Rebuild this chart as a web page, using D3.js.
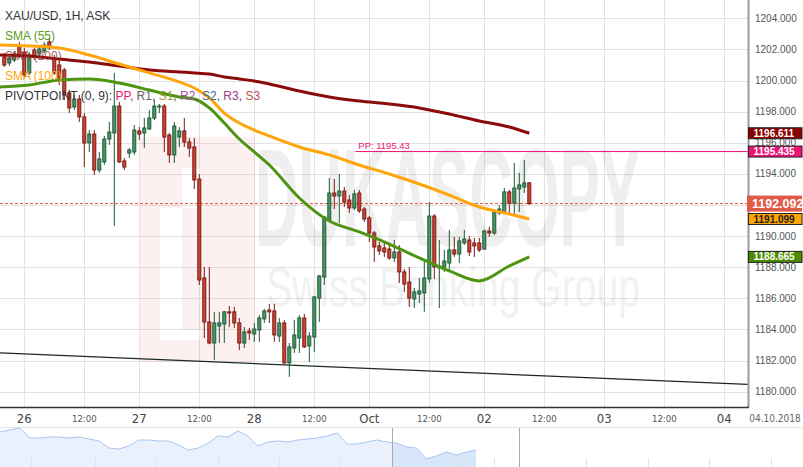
<!DOCTYPE html>
<html><head><meta charset="utf-8">
<script src="https://cdn.jsdelivr.net/npm/d3@7/dist/d3.min.js"></script>
<style>
body{margin:0;background:#fff;}
svg{display:block;font-family:"Liberation Sans",Arial,sans-serif;}
</style>
</head><body>
<svg id="c" width="803" height="467"></svg>
<script>
// ---------- DATA ----------
// hourly candles, slot index 0..105 (trading hours, weekend skipped)
const opens = [1201.51,1201.13,1201.32,1202.22,1201.83,1200.49,1201.96,1201.71,1201.90,1202.48,
1201.45,1201.00,1200.68,1199.20,1198.30,1198.81,1197.66,1195.99,1196.56,1194.25,
1194.77,1196.24,1196.63,1198.36,1194.83,1195.34,1195.41,1196.76,1196.63,1196.89,
1197.59,1198.30,1198.36,1196.50,1195.22,1196.37,1196.76,1196.05,1195.73,1193.67,
1187.31,1184.48,1183.13,1184.23,1184.35,1185.13,1185.13,1184.42,1183.13,1183.90,
1183.71,1183.97,1184.68,1185.25,1185.19,1183.58,1184.42,1181.85,1182.81,1183.45,
1184.74,1182.94,1183.52,1186.02,1187.37,1191.04,1192.77,1192.58,1192.90,1192.32,
1191.81,1192.77,1191.74,1191.17,1190.20,1189.37,1189.24,1189.17,1188.60,1188.98,
1187.70,1187.05,1185.96,1186.28,1186.35,1187.25,1191.29,1187.95,1188.02,1188.27,
1189.11,1188.85,1189.56,1189.75,1189.56,1189.56,1189.17,1190.33,1190.20,1191.49,
1191.49,1192.84,1192.13,1193.03,1193.16,1193.42];
const highs = [1201.77,1201.64,1201.90,1202.48,1202.09,1201.83,1202.09,1202.28,1202.48,1202.73,
1201.64,1201.45,1200.81,1199.39,1199.07,1199.07,1197.91,1196.82,1196.82,1195.41,
1196.44,1197.34,1200.49,1198.62,1195.02,1195.66,1197.14,1197.01,1197.59,1198.11,
1198.75,1198.49,1198.49,1196.63,1197.34,1197.01,1197.59,1196.31,1196.31,1193.99,
1188.02,1188.02,1185.13,1185.13,1185.19,1185.51,1185.45,1184.74,1184.16,1184.10,
1184.42,1184.93,1185.32,1185.64,1185.64,1184.74,1184.61,1183.13,1184.61,1184.93,
1185.00,1183.84,1186.15,1187.50,1191.30,1193.74,1193.67,1193.99,1193.16,1192.64,
1192.97,1192.97,1191.87,1191.29,1190.33,1189.62,1189.56,1189.56,1189.75,1189.43,
1187.89,1188.02,1186.67,1187.31,1188.47,1192.19,1191.42,1189.75,1189.11,1190.40,
1189.95,1189.95,1190.40,1190.01,1189.88,1189.88,1190.40,1190.59,1191.68,1192.00,
1193.09,1192.97,1194.70,1194.06,1194.89,1193.48];
const lows = [1200.87,1200.94,1201.19,1201.45,1200.16,1200.36,1201.32,1201.51,1201.77,1201.96,
1200.36,1199.71,1198.75,1197.91,1198.11,1197.34,1194.44,1195.41,1193.93,1194.06,
1194.57,1195.86,1190.65,1194.70,1194.25,1195.02,1195.22,1196.18,1195.66,1196.82,
1197.46,1197.91,1195.41,1194.70,1194.70,1195.73,1195.73,1195.09,1193.03,1186.86,
1183.45,1183.05,1182.04,1183.13,1183.13,1184.16,1184.10,1182.68,1182.81,1183.33,
1183.20,1183.20,1184.42,1184.42,1183.20,1183.20,1181.78,1180.95,1182.49,1182.49,
1182.81,1181.91,1182.55,1184.48,1186.86,1190.91,1191.74,1190.84,1191.87,1191.49,
1191.68,1191.49,1190.91,1189.62,1188.34,1188.79,1188.66,1188.47,1188.34,1186.99,
1186.41,1185.45,1185.38,1185.70,1185.13,1186.99,1187.25,1185.38,1187.70,1187.70,
1188.66,1188.27,1189.43,1188.72,1188.66,1188.98,1189.11,1189.95,1190.07,1191.36,
1191.49,1191.49,1191.36,1191.55,1192.77,1192.00];
const closes = [1201.00,1201.45,1201.71,1201.64,1200.36,1201.64,1201.51,1202.03,1202.28,1202.09,
1200.49,1200.16,1199.07,1198.24,1198.81,1197.66,1195.99,1196.56,1194.25,1194.96,
1196.24,1196.69,1198.36,1194.77,1194.44,1195.54,1196.82,1196.56,1196.95,1197.59,
1198.36,1198.36,1196.37,1195.22,1197.08,1196.76,1196.05,1195.66,1193.61,1187.18,
1184.48,1183.13,1184.42,1184.42,1185.13,1185.06,1184.42,1183.13,1183.84,1183.78,
1184.03,1184.74,1185.19,1185.13,1183.65,1184.42,1181.85,1182.88,1183.65,1184.74,
1182.88,1183.58,1186.09,1187.44,1191.23,1192.77,1192.58,1192.90,1192.19,1191.81,
1192.71,1191.62,1191.10,1190.20,1189.30,1189.05,1188.98,1188.60,1188.98,1187.70,
1186.92,1186.02,1186.41,1186.47,1187.31,1191.29,1188.02,1188.08,1188.40,1189.11,
1188.85,1189.69,1189.82,1188.98,1189.37,1189.11,1190.33,1190.20,1191.55,1191.74,
1192.84,1192.13,1193.09,1193.29,1193.42,1192.092];

// moving averages at these slots
const smaSlots = [-1,5,11,17,23,29,35,38,41,44,47,50,53,59,65,71,77,83,89,95,101,105];
const sma55  = [1199.58,1199.71,1200.04,1200.10,1199.84,1199.39,1198.94,1198.81,1198.24,1197.27,1196.24,1195.41,1194.57,1192.45,1190.97,1190.27,1189.49,1188.60,1187.76,1187.12,1188.08,1188.665];
const sma100 = [1202.28,1202.22,1202.09,1201.64,1201.06,1200.49,1199.91,1199.52,1198.88,1197.91,1197.27,1196.82,1196.44,1195.73,1195.22,1194.57,1193.99,1193.35,1192.64,1191.87,1191.42,1191.099];
const sma200 = [1201.64,1201.58,1201.38,1201.19,1200.93,1200.68,1200.55,1200.49,1200.42,1200.23,1200.10,1199.97,1199.78,1199.33,1198.94,1198.68,1198.49,1198.24,1197.85,1197.40,1197.01,1196.611];

// trend line (slot, price)
const trendSlots = [-0.86, 148.74];
const trendPrices = [1182.49, 1180.47];

const pivotPP = 1195.435;
const lastPrice = 1192.092;

// axes
const priceTicks = [1180,1182,1184,1186,1188,1190,1192,1194,1196,1198,1200,1202,1204];
const timeTickSlots = [4,16,27,39,50,62,73,85,96,108,120,132,144];
const timeTickLabels = ["26","12:00","27","12:00","28","12:00","Oct","12:00","02","12:00","03","12:00","04"];
const timeTickMajor = [true,false,true,false,true,false,true,false,true,false,true,false,true];

// navigator overview series
const navValues = [1210,1212,1214,1204,1204,1205,1205,1204,1205,1203,1201,1194,1193,1196,1202,1202,1201,1201,1197,1192,
1194,1199,1206,1205,1211,1206,1196,1200,1201,1200,1202,1203,1204,1206,1209,1198,1198,1200,1202,1200,
1199,1195,1194,1183,1186,1190,1187,1190,1192];

// ---------- DRAW ----------
const svg = d3.select("#c");
const PR = 748, PB = 407;
const x = d3.scaleLinear().domain([0,148.74]).range([4.3,748]);
const y = d3.scaleLinear().domain([1180,1204]).range([391.7,18.3]);

svg.append("defs").append("clipPath").attr("id","plot")
  .append("rect").attr("x",0).attr("y",0).attr("width",PR).attr("height",PB);

const plot = svg.append("g").attr("clip-path","url(#plot)");

// grid
plot.append("g").selectAll("line").data(priceTicks).join("line")
  .attr("x1",0).attr("x2",PR).attr("y1",d=>Math.round(y(d))+0.5).attr("y2",d=>Math.round(y(d))+0.5)
  .attr("stroke","#e3e3e3").attr("stroke-width",1);
plot.append("g").selectAll("line").data(timeTickSlots).join("line")
  .attr("y1",0).attr("y2",PB).attr("x1",d=>Math.round(x(d))+0.5).attr("x2",d=>Math.round(x(d))+0.5)
  .attr("stroke","#e3e3e3").attr("stroke-width",1);

// watermark logo
const wm = plot.append("g").attr("opacity",0.07);
wm.append("path").attr("fill","#e0303a").attr("fill-rule","evenodd")
  .attr("d","M140,137H255V362H140Z M182,168H200V208H160V340H200V330H182Z");

// watermark text
plot.append("text").attr("x",255).attr("y",246).attr("font-size",140).attr("font-weight","bold")
  .attr("textLength",385).attr("lengthAdjust","spacingAndGlyphs")
  .attr("fill","#000").attr("opacity",0.06).text("DUKASCOPY");
plot.append("text").attr("x",266).attr("y",306).attr("font-size",56)
  .attr("textLength",374).attr("lengthAdjust","spacingAndGlyphs")
  .attr("fill","#000").attr("opacity",0.05).text("Swiss Banking Group");

// legend label drawn under the marks (obscured in the original)
svg.append("text").attr("x",5).attr("y",59.5).attr("font-size",12)
  .attr("fill","#a03a3a").attr("opacity",0.8).text("SMA (200)");

// trend line
plot.append("line")
  .attr("x1",x(trendSlots[0])).attr("y1",y(trendPrices[0]))
  .attr("x2",x(trendSlots[1])).attr("y2",y(trendPrices[1]))
  .attr("stroke","#1c2a1c").attr("stroke-width",1.2);

// last price dashed line
plot.append("line").attr("x1",0).attr("x2",PR).attr("y1",y(lastPrice)).attr("y2",y(lastPrice))
  .attr("stroke","#e4553f").attr("stroke-width",1).attr("stroke-dasharray","3,2");

// pivot PP line
plot.append("line").attr("x1",x(70.2)).attr("x2",PR).attr("y1",y(pivotPP)).attr("y2",y(pivotPP))
  .attr("stroke","#ee1177").attr("stroke-width",1);
plot.append("text").attr("x",x(70.8)).attr("y",y(pivotPP)-2.5).attr("font-size",9.5)
  .attr("fill","#ee1177").text("PP: " + pivotPP.toFixed(2));

// candles
const candles = d3.range(opens.length).map(i=>({i,o:opens[i],h:highs[i],l:lows[i],c:closes[i]}));
const cg = plot.append("g");
cg.selectAll("line").data(candles).join("line")
  .attr("x1",d=>x(d.i)).attr("x2",d=>x(d.i)).attr("y1",d=>y(d.h)).attr("y2",d=>y(d.l))
  .attr("stroke",d=>d.c>=d.o?"#1e5a36":"#7a1a14").attr("stroke-width",1);
cg.selectAll("rect").data(candles).join("rect")
  .attr("x",d=>x(d.i)-1.5).attr("width",3)
  .attr("y",d=>y(Math.max(d.o,d.c)))
  .attr("height",d=>Math.max(0.8,Math.abs(y(d.o)-y(d.c))))
  .attr("fill",d=>d.c>=d.o?"#4a9668":"#cc4532")
  .attr("stroke",d=>d.c>=d.o?"#1e5a36":"#7a1a14").attr("stroke-width",1);

// SMAs
const line = d3.line().x(d=>x(d[0])).y(d=>y(d[1])).curve(d3.curveMonotoneX);
[[sma200,"#8b0a0a"],[sma100,"#ffa40a"],[sma55,"#4d9410"]].forEach(([vals,col])=>{
  plot.append("path").datum(smaSlots.map((s,i)=>[s,vals[i]])).attr("d",line)
    .attr("fill","none").attr("stroke",col).attr("stroke-width",3).attr("stroke-linejoin","round");
});

// legend
const lg = svg.append("g").attr("font-size",12);
lg.append("text").attr("x",5).attr("y",19.5).attr("fill","#333").text("XAU/USD, 1H, ASK");
lg.append("text").attr("x",5).attr("y",39.5).attr("fill","#5a9e22").text("SMA (55)");
lg.append("text").attr("x",5).attr("y",79.5).attr("fill","#ffa40a").text("SMA (100)");
const pv = lg.append("text").attr("x",5).attr("y",100).attr("fill","#333");
const pvParts = [["PIVOTPOINT (0, 9): ","#333"],["PP","#ee1177"],[", ","#555"],["R1","#666"],[", ","#555"],
  ["S1","#9a9a3a"],[", ","#555"],["R2","#a050a0"],[", ","#555"],["S2","#2f6f8f"],[", ","#555"],
  ["R3","#a0408a"],[", ","#555"],["S3","#c05050"]];
pvParts.forEach(([t,c])=>pv.append("tspan").attr("fill",c).text(t));

// right axis
svg.append("line").attr("x1",PR+0.5).attr("x2",PR+0.5).attr("y1",0).attr("y2",PB)
  .attr("stroke","#9a9a9a").attr("stroke-width",2);
svg.append("g").selectAll("text").data(priceTicks).join("text")
  .attr("x",755).attr("y",d=>y(d)+3.5).attr("font-size",10).attr("fill","#555")
  .text(d=>d.toFixed(3));

// price tags
function tag(v, fill, txt, fs, border, h, x0){
  const g = svg.append("g");
  const yc = y(v);
  g.append("rect").attr("x",x0).attr("y",yc-h/2).attr("width",803-x0-1).attr("height",h)
    .attr("fill",fill).attr("stroke",border||"none").attr("stroke-width",1);
  g.append("text").attr("x",x0+5).attr("y",yc+fs*0.36).attr("font-size",fs)
    .attr("font-weight","bold").attr("fill",txt).text(v.toFixed(3));
}
tag(sma200[sma200.length-1],"#8b0000","#fff",10,"#222",11,748.5);
tag(pivotPP,"#ee1177","#fff",10,"#222",11,748.5);
tag(lastPrice,"#e05a48","#fff",12.5,null,16,747);
tag(sma100[sma100.length-1],"#ffa500","#222",10,"#222",11,748.5);
tag(sma55[sma55.length-1],"#4c8c00","#fff",10,"#222",11,748.5);

// bottom axis
svg.append("line").attr("x1",0).attr("x2",PR+1).attr("y1",PB+0.5).attr("y2",PB+0.5)
  .attr("stroke","#333").attr("stroke-width",1.5);
svg.append("g").selectAll("text").data(timeTickSlots).join("text")
  .attr("x",d=>x(d)).attr("y",(d,i)=>timeTickMajor[i]?422.5:421.5)
  .attr("text-anchor","middle")
  .attr("font-family",'"Liberation Sans Narrow","DejaVu Sans Condensed",sans-serif')
  .attr("font-size",(d,i)=>timeTickMajor[i]?13:9.5)
  .attr("fill",(d,i)=>timeTickMajor[i]?"#444":"#555")
  .text((d,i)=>timeTickLabels[i]);
svg.append("text").attr("x",775).attr("y",421.5).attr("text-anchor","middle")
  .attr("font-family",'"Liberation Sans Narrow","DejaVu Sans Condensed",sans-serif')
  .attr("font-size",10).attr("fill","#666").text("04.10.2018");

// navigator
const nav = svg.append("g");
const nx = d3.scaleLinear().domain([0,navValues.length-1]).range([0,476]);
const ny = d3.scaleLinear().domain([1175,1215]).range([467,427]);
nav.append("line").attr("x1",0).attr("x2",803).attr("y1",427.5).attr("y2",427.5).attr("stroke","#e4e4e4");
const area = d3.area().x((d,i)=>nx(i)).y0(467).y1(d=>ny(d));
nav.append("defs").html('<clipPath id="selL"><rect x="0" y="420" width="392" height="50"/></clipPath><clipPath id="selR"><rect x="392" y="420" width="90" height="50"/></clipPath>');
nav.append("path").datum(navValues).attr("d",area).attr("fill","#e9f1fc").attr("clip-path","url(#selL)");
nav.append("path").datum(navValues).attr("d",area).attr("fill","#d8e6fa").attr("clip-path","url(#selR)");
nav.append("path").datum(navValues).attr("d",d3.line().x((d,i)=>nx(i)).y(d=>ny(d)))
  .attr("fill","none").attr("stroke","#a9c5ef").attr("stroke-width",1);
[31,95,156,218,279,340,463,494,586,648,709,771].forEach(v=>{
  nav.append("line").attr("x1",v+0.5).attr("x2",v+0.5).attr("y1",458).attr("y2",467).attr("stroke","#e0e0e0");
});
nav.append("line").attr("x1",392.5).attr("x2",392.5).attr("y1",428).attr("y2",467).attr("stroke","#aaa");
nav.append("line").attr("x1",519.5).attr("x2",519.5).attr("y1",428).attr("y2",467).attr("stroke","#aaa");
</script>
</body></html>
